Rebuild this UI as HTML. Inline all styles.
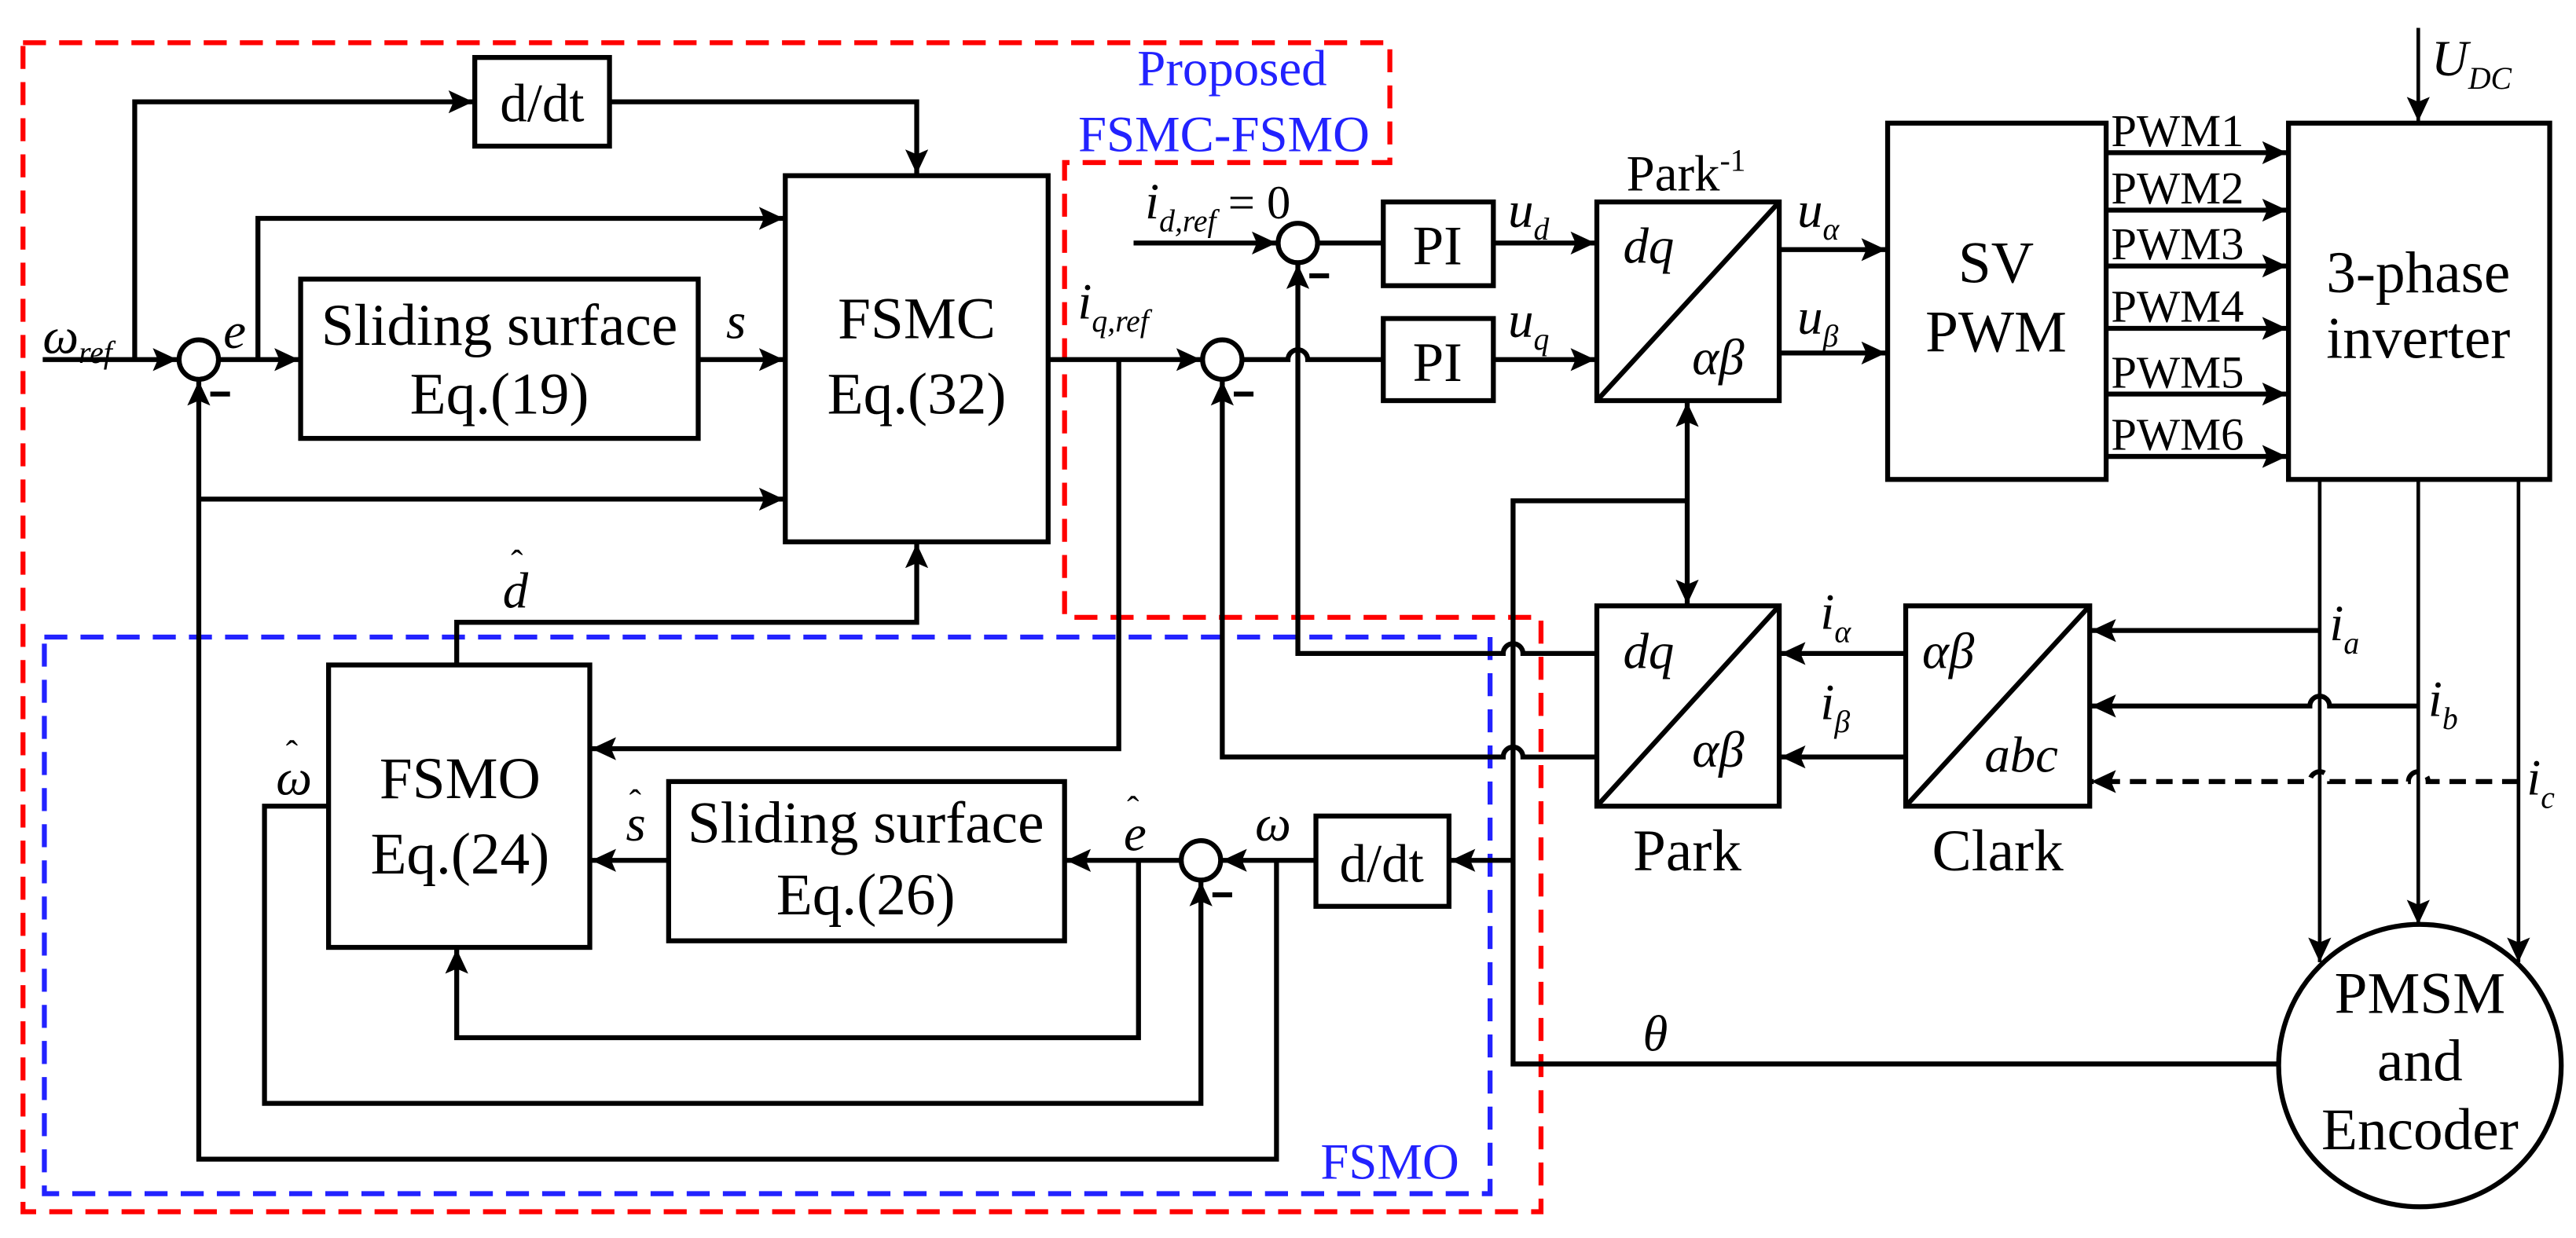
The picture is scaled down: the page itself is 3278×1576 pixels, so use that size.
<!DOCTYPE html>
<html><head><meta charset="utf-8"><style>
html,body{margin:0;padding:0;background:#fff}
svg{display:block}
svg, svg text{font-family:"Liberation Serif","Times New Roman",Times,serif}
.i{font-style:italic}
</style></head><body>
<svg width="3278" height="1576" viewBox="0 0 1568 754" preserveAspectRatio="none" xmlns="http://www.w3.org/2000/svg" font-family="Liberation Serif, Times New Roman, serif">
<defs>
<marker id="a" markerUnits="userSpaceOnUse" markerWidth="16" markerHeight="14" refX="15" refY="7" orient="auto">
<path d="M0,0 L15,7 L0,14 L3,7 Z" fill="#000"/></marker>
</defs>
<path d="M14,26 H846 V99 H648 V376 H938 V738 H14 Z" fill="none" stroke="#f00" stroke-width="3" stroke-dasharray="14 8"/>
<rect x="27" y="388" width="880" height="339" fill="none" stroke="#22f" stroke-width="3" stroke-dasharray="14 8"/>
<text x="750" y="52" font-size="31" text-anchor="middle" fill="#22f">Proposed</text>
<text x="745" y="92" font-size="31" text-anchor="middle" fill="#22f">FSMC-FSMO</text>
<text x="846" y="718" font-size="31" text-anchor="middle" fill="#22f">FSMO</text>

<g fill="none" stroke="#000" stroke-width="3">
<rect x="289" y="35" width="82" height="54"/>
<rect x="183" y="170" width="242" height="97"/>
<rect x="478" y="107" width="160" height="223"/>
<rect x="200" y="405" width="159" height="172"/>
<rect x="407" y="476" width="241" height="97"/>
<rect x="801" y="497" width="81" height="55"/>
<rect x="842" y="123" width="67" height="51"/>
<rect x="842" y="194" width="67" height="50"/>
<rect x="972" y="123" width="111" height="121"/>
<path d="M972,244 L1083,123"/>
<rect x="972" y="369" width="111" height="122"/>
<path d="M972,491 L1083,369"/>
<rect x="1160" y="369" width="112" height="122"/>
<path d="M1160,491 L1272,369"/>
<rect x="1149" y="75" width="133" height="217"/>
<rect x="1393" y="75" width="159" height="217"/>
<ellipse cx="1473" cy="649" rx="86" ry="86"/>

<path d="M26,219 H108" marker-end="url(#a)"/>
<path d="M82,219 V62 H288" marker-end="url(#a)"/>
<path d="M371,62 H558 V106" marker-end="url(#a)"/>
<path d="M133,219 H182" marker-end="url(#a)"/>
<path d="M157,219 V133 H477" marker-end="url(#a)"/>
<path d="M425,219 H477" marker-end="url(#a)"/>
<path d="M121,304 H477" marker-end="url(#a)"/>
<path d="M777,524 V706 H121 V232" marker-end="url(#a)"/>
<path d="M278,405 V379 H558 V331" marker-end="url(#a)"/>
<path d="M638,219 H731" marker-end="url(#a)"/>
<path d="M681,219 V456 H360" marker-end="url(#a)"/>
<path d="M200,491 H161 V672 H731 V537" marker-end="url(#a)"/>
<path d="M407,524 H360" marker-end="url(#a)"/>
<path d="M718,524 H649" marker-end="url(#a)"/>
<path d="M693,524 V632 H278 V578" marker-end="url(#a)"/>
<path d="M801,524 H744" marker-end="url(#a)"/>
<path d="M1387,648 H921 V305 H1027"/>
<path d="M1027,305 V245" marker-end="url(#a)"/>
<path d="M1027,305 V368" marker-end="url(#a)"/>
<path d="M921,524 H883" marker-end="url(#a)"/>
<path d="M690,148 H777" marker-end="url(#a)"/>
<path d="M802,148 H842"/>
<path d="M909,148 H971" marker-end="url(#a)"/>
<path d="M756,219 H784 A6,6 0 0 1 796,219 H842"/>
<path d="M909,219 H971" marker-end="url(#a)"/>
<path d="M972,398 H927 A6,6 0 0 0 915,398 H790 V161" marker-end="url(#a)"/>
<path d="M972,461 H927 A6,6 0 0 0 915,461 H744 V232" marker-end="url(#a)"/>
<path d="M1083,152 H1148" marker-end="url(#a)"/>
<path d="M1083,215 H1148" marker-end="url(#a)"/>
<path d="M1282,93 H1392" marker-end="url(#a)"/>
<path d="M1282,128 H1392" marker-end="url(#a)"/>
<path d="M1282,162 H1392" marker-end="url(#a)"/>
<path d="M1282,200 H1392" marker-end="url(#a)"/>
<path d="M1282,240 H1392" marker-end="url(#a)"/>
<path d="M1282,278 H1392" marker-end="url(#a)"/>
</g>
<g fill="none" stroke="#000" stroke-width="2.2">
<path d="M1472,17 V74" marker-end="url(#a)"/>
<path d="M1412,292 V586" marker-end="url(#a)"/>
<path d="M1472,292 V563" marker-end="url(#a)"/>
<path d="M1533,292 V586" marker-end="url(#a)"/>
</g>
<g fill="none" stroke="#000" stroke-width="3">
<path d="M1412,384 H1273" marker-end="url(#a)"/>
<path d="M1472,430 H1418 A6,6 0 0 0 1406,430 H1273" marker-end="url(#a)"/>
<path d="M1533,476 H1478 A6,6 0 0 0 1466,476 H1418 A6,6 0 0 0 1406,476 H1273" stroke-dasharray="10 6" marker-end="url(#a)"/>
<path d="M1160,398 H1084" marker-end="url(#a)"/>
<path d="M1160,461 H1084" marker-end="url(#a)"/>
</g>
<g fill="#fff" stroke="#000" stroke-width="3">
<circle cx="121" cy="219" r="12"/>
<circle cx="790" cy="148" r="12"/>
<circle cx="744" cy="219" r="12"/>
<circle cx="731" cy="524" r="12"/>
</g>
<g stroke="#000" stroke-width="3">
<path d="M128,240 H140"/><path d="M797,168 H809"/><path d="M751,240 H763"/><path d="M738,545 H750"/>
</g>

<g font-size="36" text-anchor="middle" font-family="Liberation Serif, serif">
<text x="330" y="74" font-size="33">d/dt</text>
<text x="304" y="210">Sliding surface</text>
<text x="304" y="252">Eq.(19)</text>
<text x="558" y="206">FSMC</text>
<text x="558" y="252">Eq.(32)</text>
<text x="280" y="486">FSMO</text>
<text x="280" y="532">Eq.(24)</text>
<text x="527" y="513">Sliding surface</text>
<text x="527" y="557">Eq.(26)</text>
<text x="841" y="537" font-size="33">d/dt</text>
<text x="875" y="161" font-size="34">PI</text>
<text x="875" y="232" font-size="34">PI</text>
<text x="1215" y="172">SV</text>
<text x="1215" y="214">PWM</text>
<text x="1472" y="178">3-phase</text>
<text x="1472" y="218">inverter</text>
<text x="1473" y="617">PMSM</text>
<text x="1473" y="658">and</text>
<text x="1473" y="700">Encoder</text>
<text x="1027" y="530">Park</text>
<text x="1216" y="530">Clark</text>
</g>
<text x="990" y="116" font-size="31">Park<tspan font-size="19" dy="-12">-1</tspan></text>
<g font-size="28">
<text x="1285" y="89">PWM1</text><text x="1285" y="124">PWM2</text><text x="1285" y="158">PWM3</text>
<text x="1285" y="196">PWM4</text><text x="1285" y="236">PWM5</text><text x="1285" y="274">PWM6</text>
</g>
<g font-size="31" font-style="italic">
<text x="988" y="160">dq</text>
<text x="1030" y="228">αβ</text>
<text x="988" y="407">dq</text>
<text x="1030" y="467">αβ</text>
<text x="1170" y="407">αβ</text>
<text x="1208" y="470">abc</text>
<text x="26" y="215">ω<tspan font-size="19" dy="6">ref</tspan></text>
<text x="136" y="212">e</text>
<text x="442" y="206">s</text>
<text x="656" y="194">i<tspan font-size="19" dy="8">q,ref</tspan></text>
<text x="697" y="133">i<tspan font-size="19" dy="8">d,ref</tspan><tspan font-style="normal" dy="-8" font-size="29"> = 0</tspan></text>
<text x="918" y="138">u<tspan font-size="19" dy="8">d</tspan></text>
<text x="918" y="205">u<tspan font-size="19" dy="8">q</tspan></text>
<text x="1094" y="138">u<tspan font-size="19" dy="8">α</tspan></text>
<text x="1094" y="203">u<tspan font-size="19" dy="8">β</tspan></text>
<text x="306" y="370">d</text><text x="311" y="350" font-size="22" font-style="normal">ˆ</text>
<text x="168" y="484">ω</text><text x="174" y="466" font-size="22" font-style="normal">ˆ</text>
<text x="381" y="512">s</text><text x="383" y="496" font-size="22" font-style="normal">ˆ</text>
<text x="684" y="518">e</text><text x="686" y="500" font-size="22" font-style="normal">ˆ</text>
<text x="764" y="512">ω</text>
<text x="1000" y="640">θ</text>
<text x="1108" y="383">i<tspan font-size="19" dy="8">α</tspan></text>
<text x="1108" y="438">i<tspan font-size="19" dy="8">β</tspan></text>
<text x="1418" y="390">i<tspan font-size="19" dy="8">a</tspan></text>
<text x="1478" y="436">i<tspan font-size="19" dy="8">b</tspan></text>
<text x="1538" y="484">i<tspan font-size="19" dy="8">c</tspan></text>
<text x="1480" y="46">U<tspan font-size="19" dy="8">DC</tspan></text>
</g>
</svg>
</body></html>
